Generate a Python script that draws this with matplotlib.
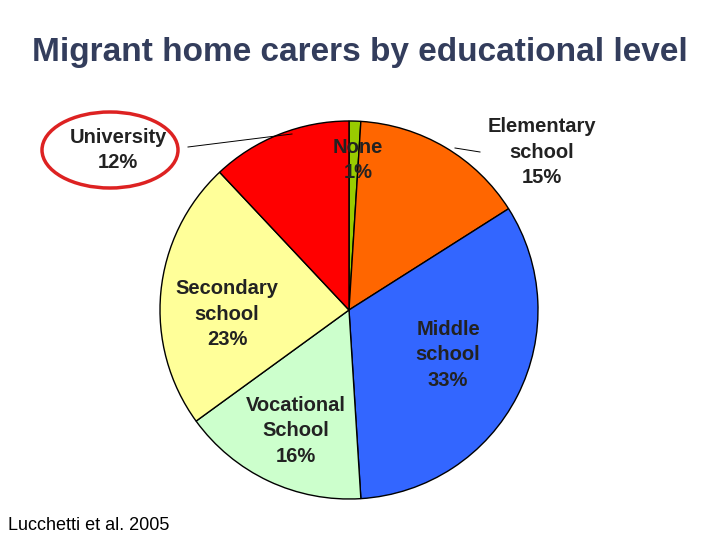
import matplotlib
matplotlib.use('Agg')
import matplotlib.pyplot as plt
from matplotlib.patches import Ellipse

plt.rcParams['font.family'] = ['Liberation Sans', 'DejaVu Sans']

# data
labels = ['None', 'Elementary\nschool', 'Middle\nschool', 'Vocational\nSchool', 'Secondary\nschool', 'University']
shares = [1, 15, 33, 16, 23, 12]
colors = ['#99cc00', '#ff6600', '#3366ff', '#ccffcc', '#ffff99', '#ff0000']

fig = plt.figure(figsize=(7.2, 5.4), dpi=100)
ax = fig.add_axes([0, 0, 1, 1])
ax.set_xlim(0, 720)
ax.set_ylim(0, 540)
ax.set_aspect('equal')
ax.axis('off')

ax.pie(shares, colors=colors, startangle=90, counterclock=False,
       center=(349, 230), radius=189,
       wedgeprops=dict(edgecolor='black', linewidth=1))
ax.set_xlim(0, 720)
ax.set_ylim(0, 540)

# label positions (pixels from top)
pos = [(358, 160), (542, 152), (448, 355), (296, 431), (227, 314), (118, 150)]
for lab, s, (x, y) in zip(labels, shares, pos):
    ax.text(x, 540 - y, f'{lab}\n{s}%', ha='center', va='center',
            fontsize=14.5, fontweight='bold', color='#222222', linespacing=1.45)

# leader lines
ax.plot([188, 292], [540 - 147, 540 - 134], color='black', lw=0.7)
ax.plot([455, 480], [540 - 148, 540 - 152], color='black', lw=0.7)

ax.add_patch(Ellipse((110, 540 - 150), 136, 76, fill=False, edgecolor='#dd2222', lw=2.5))

ax.text(360, 540 - 52, 'Migrant home carers by educational level', ha='center', va='center',
        fontsize=24, fontweight='bold', color='#333d5c')
ax.text(8, 540 - 525, 'Lucchetti et al. 2005', ha='left', va='center', fontsize=13, color='black')

plt.savefig('out.png', dpi=100)
